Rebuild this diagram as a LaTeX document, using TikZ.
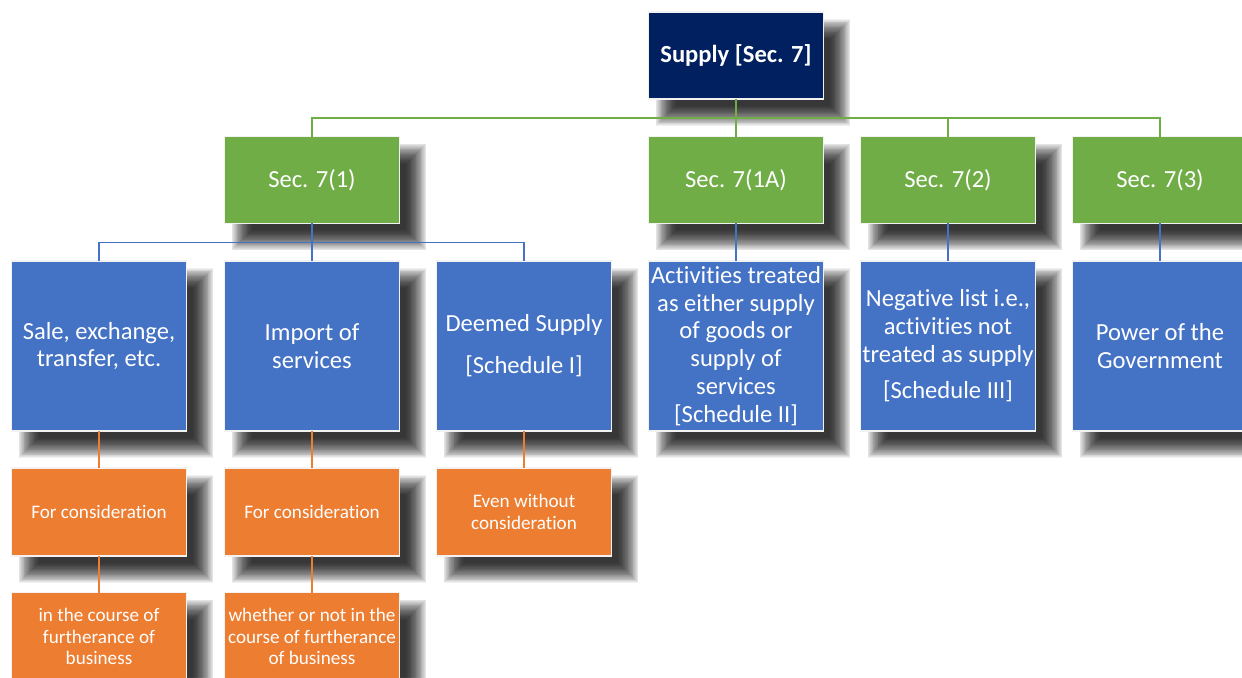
\documentclass[tikz,border=0pt]{standalone}
\usepackage{fontspec}
\setmainfont[Ligatures=NoCommon]{Carlito}
\definecolor{navyfill}{HTML}{002060}
\definecolor{greenfill}{HTML}{70AD47}
\definecolor{bluefill}{HTML}{4472C4}
\definecolor{orangefill}{HTML}{ED7D31}
\definecolor{edge}{HTML}{F2F2F2}
\pgfdeclarelayer{shadowlayer}
\pgfsetlayers{shadowlayer,main}
% soft drop shadow behind a named box: stacked translucent rectangles
\newcommand\dropshadow[1]{%
  \foreach \i in {0,...,24}{%
    \pgfmathsetmacro\lo{27-0.8333*\i}%
    \pgfmathsetmacro\hi{7+0.8333*\i}%
    \fill[black, fill opacity=0.055]
      ([shift={(\lo,\lo)}]#1.north west) rectangle ([shift={(\hi,\hi)}]#1.south east);
  }%
}
\begin{document}
\begin{tikzpicture}[x=0.02cm,y=-0.02cm,
  box/.style={draw=edge, line width=0.8pt, text=white, align=center,
    inner sep=0pt, outer sep=0pt, minimum width=3.5cm},
  rootbox/.style={box, fill=navyfill, minimum height=1.74cm,
    font=\fontsize{14}{16}\selectfont\bfseries},
  secbox/.style={box, fill=greenfill, minimum height=1.74cm,
    font=\fontsize{14}{16}\selectfont},
  itembox/.style={box, fill=bluefill, minimum height=3.4cm,
    font=\fontsize{14}{15.8}\selectfont},
  condbox/.style={box, fill=orangefill, minimum height=1.76cm,
    font=\fontsize{10.9}{12.3}\selectfont},
  gline/.style={draw=greenfill, line width=1.1pt},
  bline/.style={draw=bluefill, line width=1.1pt},
  oline/.style={draw=orangefill, line width=1.1pt}]
\useasboundingbox (0,0) rectangle (1242,677);

% top of the tree
\node[rootbox] (root) at (736,55.5) {Supply [Sec. 7]};

% sub-sections of section 7
\node[secbox] (s1)  at (312,180)  {Sec. 7(1)};
\node[secbox] (s1a) at (736,180)  {Sec. 7(1A)};
\node[secbox] (s2)  at (948,180)  {Sec. 7(2)};
\node[secbox] (s3)  at (1160,180) {Sec. 7(3)};

% what each sub-section covers
\node[itembox] (sale)   at (99,346)   {Sale, exchange,\\transfer, etc.};
\node[itembox] (import) at (312,346)  {Import of\\services};
\node[itembox] (deemed) at (524,346)  {Deemed Supply\\[8pt][Schedule I]};
\node[itembox] (sched2) at (736,346)  {Activities treated\\as either supply\\of goods or\\supply of\\services\\{}[Schedule II]};
\node[itembox] (sched3) at (948,346)  {Negative list i.e.,\\activities not\\treated as supply\\[5pt][Schedule III]};
\node[itembox] (govt)   at (1160,346) {Power of the\\Government};

% conditions
\node[condbox] (saleC)   at (99,512)  {For consideration};
\node[condbox] (importC) at (312,512) {For consideration};
\node[condbox] (deemedC) at (524,512) {Even without\\consideration};
\node[condbox] (saleB)   at (99,636.5)  {in the course of\\furtherance of\\business};
\node[condbox] (importB) at (312,636.5) {whether or not in the\\course of furtherance\\of business};

% connectors
\foreach \c in {s1,s1a,s2,s3}
  \draw[gline] (root.south) -- ++(0,19) -| (\c.north);
\foreach \c in {sale,import,deemed}
  \draw[bline] (s1.south) -- ++(0,19) -| (\c.north);
\draw[bline] (s1a.south) -- (sched2.north);
\draw[bline] (s2.south) -- (sched3.north);
\draw[bline] (s3.south) -- (govt.north);
\draw[oline] (sale.south) -- (saleC.north);
\draw[oline] (import.south) -- (importC.north);
\draw[oline] (deemed.south) -- (deemedC.north);
\draw[oline] (saleC.south) -- (saleB.north);
\draw[oline] (importC.south) -- (importB.north);

% white page and the shadows, underneath everything else
\begin{pgfonlayer}{shadowlayer}
  \fill[white] (0,0) rectangle (1242,677);
  \foreach \b in {root,s1,s1a,s2,s3,sale,import,deemed,sched2,sched3,govt,
                  saleC,importC,deemedC,saleB,importB}
    {\dropshadow{\b}}
\end{pgfonlayer}
\end{tikzpicture}
\end{document}
